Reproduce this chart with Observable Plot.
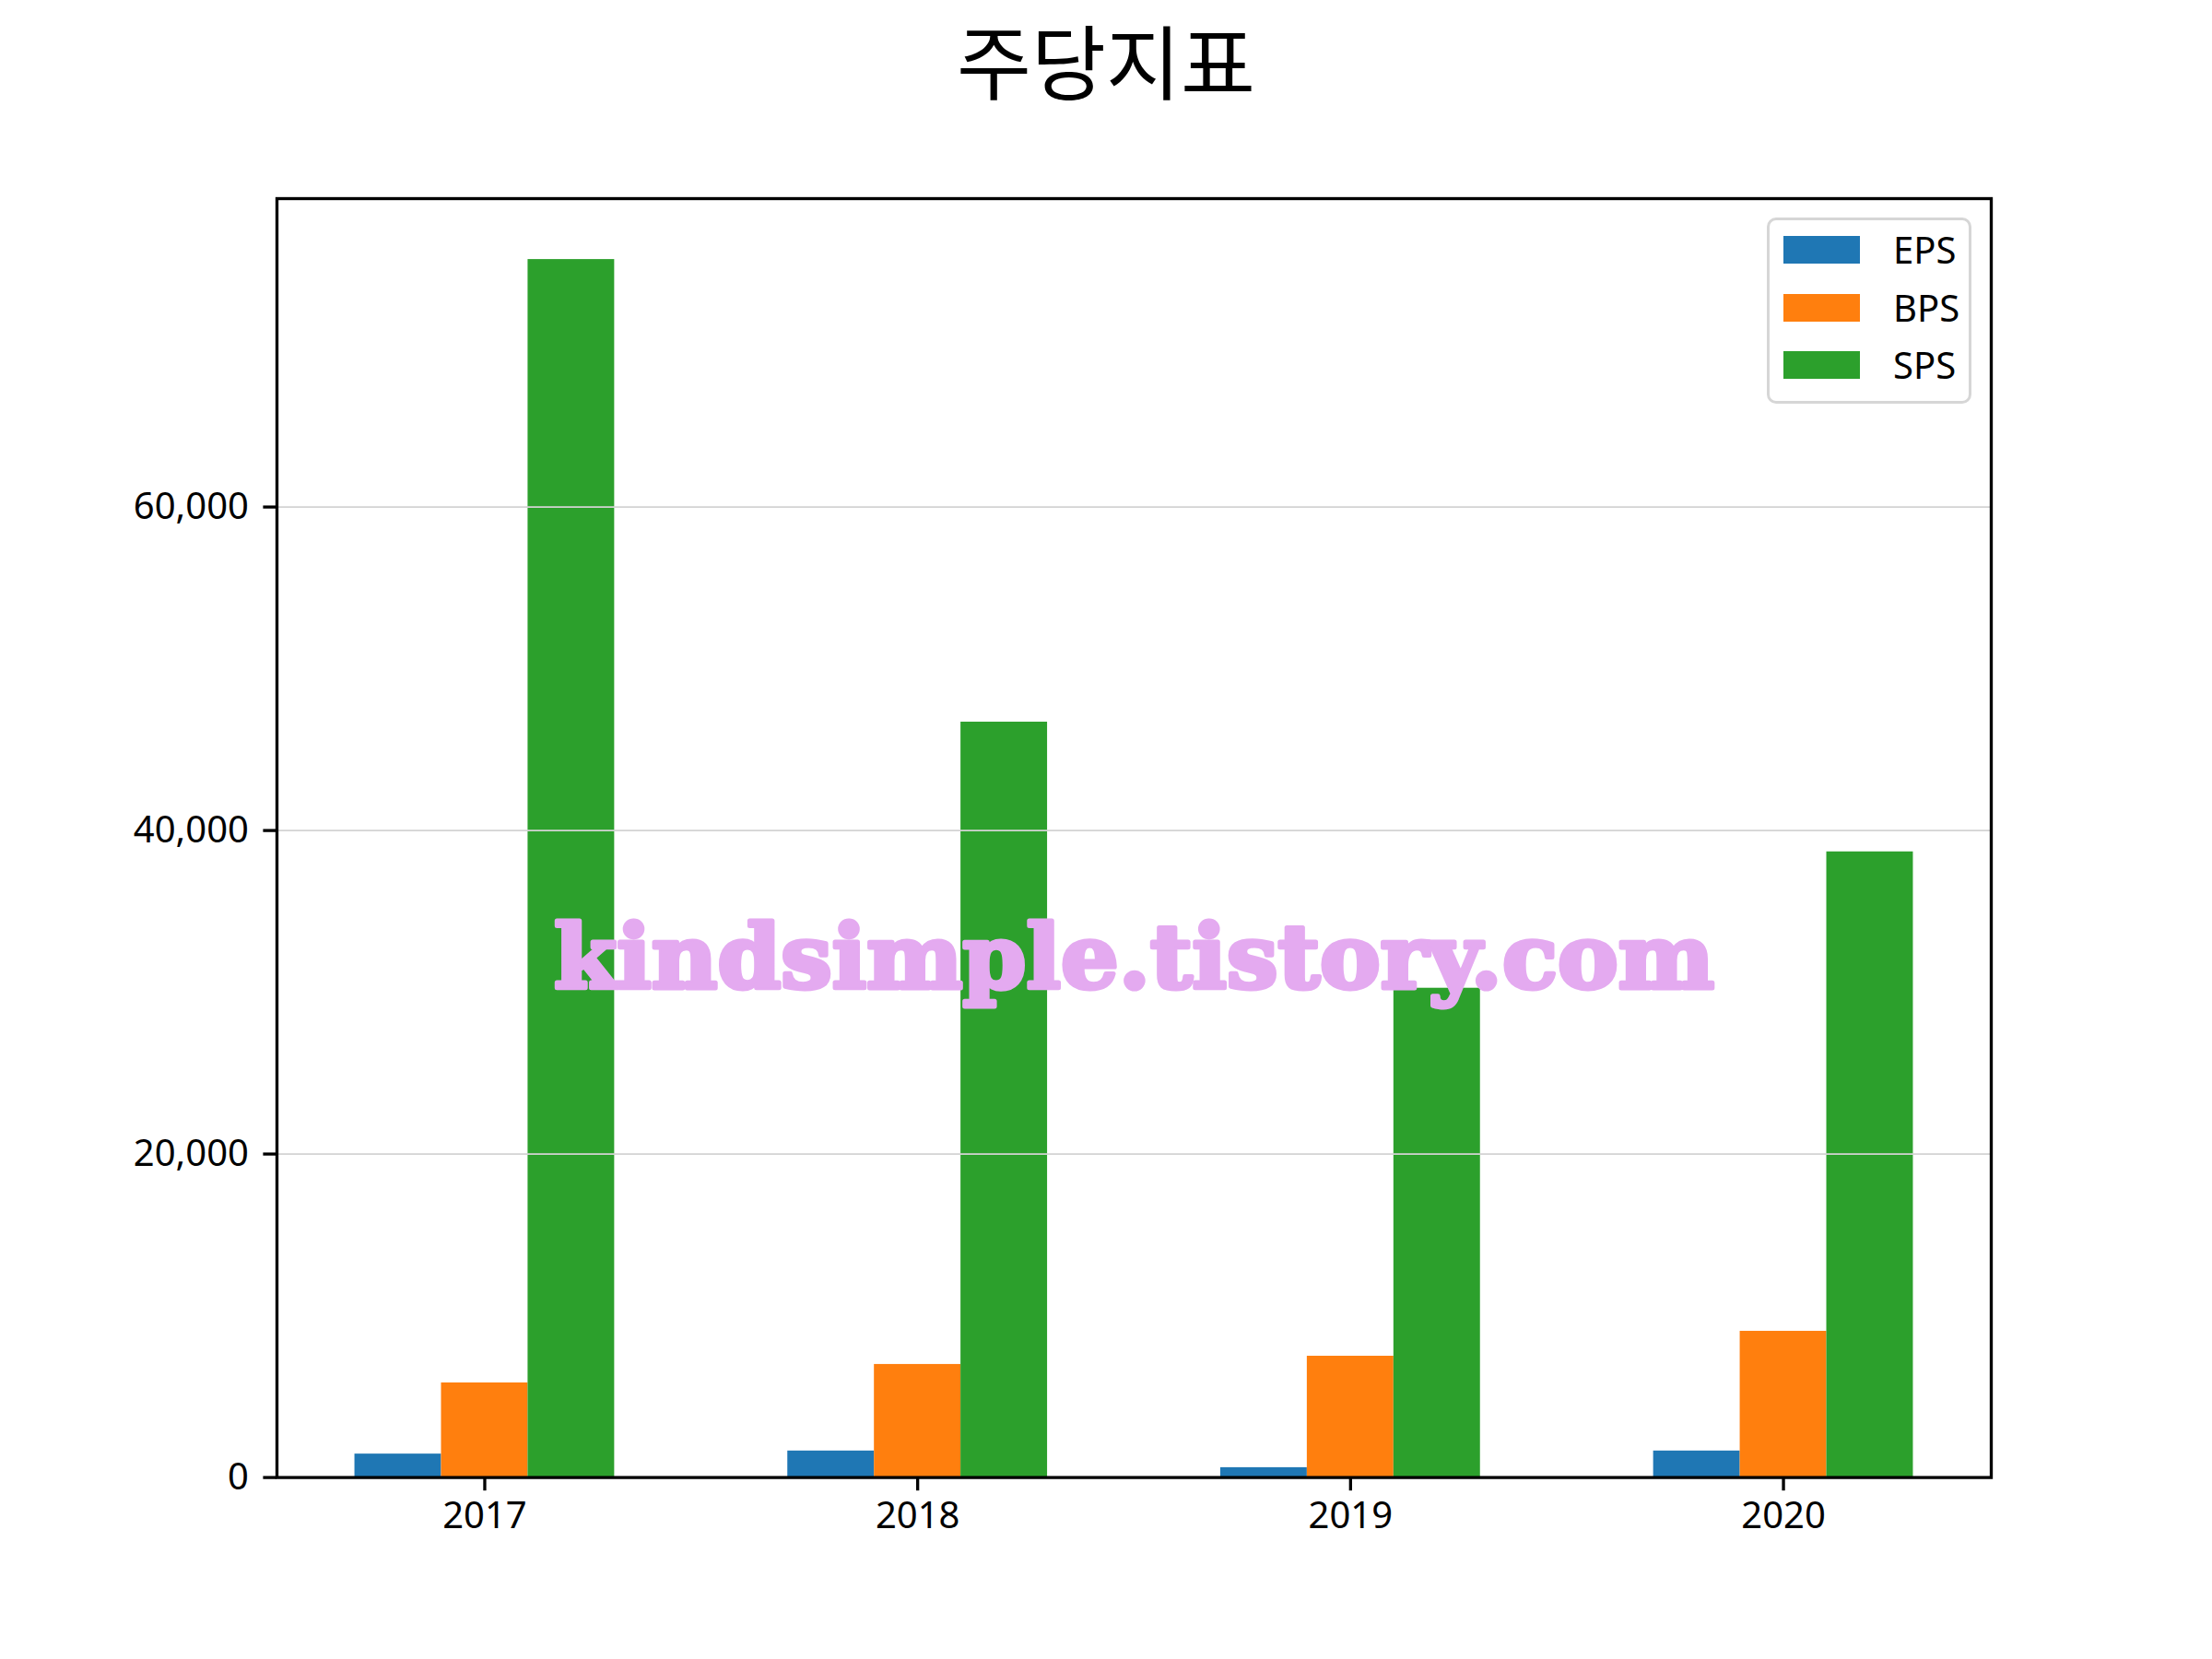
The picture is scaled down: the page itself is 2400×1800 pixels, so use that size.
<!DOCTYPE html>
<html>
<head>
<meta charset="utf-8">
<script src="https://cdn.jsdelivr.net/npm/d3@7"></script>
<script src="https://cdn.jsdelivr.net/npm/@observablehq/plot@0.6"></script>
<style>
  html, body { margin: 0; padding: 0; background: #fff; }
  #fig { position: relative; width: 2400px; height: 1800px; background: #fff; }
  #title { position: relative; height: 130px; }
  #title span { position: absolute; left: 0; right: 0; top: 63px; transform: translateY(-50%);
    text-align: center; font-family: "Noto Sans CJK KR", sans-serif; font-size: 88px; color: #000; line-height: 1; }
  #legend { position: absolute; left: 1917px; top: 236px; width: 216px; height: 196px;
    border: 3px solid #d6d6d6; border-radius: 10px; background: rgba(255,255,255,0.8);
    font-family: "Noto Sans", sans-serif; font-size: 40px; color: #000; }
  .row { position: absolute; left: 0; height: 40px; width: 100%; }
  .sw { position: absolute; left: 15px; width: 83px; height: 30px; top: 5px; }
  .lb { position: absolute; left: 134px; top: 20px; transform: translateY(-50%); line-height: 1; }
</style>
</head>
<body>
<div id="fig">
  <div id="title"><span>주당지표</span></div>
  <div id="chart"></div>
  <div id="legend"></div>
</div>
<script>
const years = ["2017", "2018", "2019", "2020"];
const seriesNames = ["EPS", "BPS", "SPS"];
const colors = ["#1f77b4", "#ff7f0e", "#2ca02c"];
const eps = [1450, 1640, 610, 1640];
const bps = [5850, 6990, 7500, 9040];
const sps = [75300, 46700, 30250, 38680];
const yTicks = [0, 20000, 40000, 60000];
const watermark = "kindsimple.tistory.com";

const valuesBySeries = [eps, bps, sps];
const barWidth = 0.2;
const rows = [];
years.forEach((yr, i) => {
  seriesNames.forEach((s, k) => {
    rows.push({year: yr, i, k, series: s, value: valuesBySeries[k][i]});
  });
});

const plot = Plot.plot({
  width: 2400,
  height: 1670,
  marginTop: 85,
  marginBottom: 197.4,
  marginLeft: 300,
  marginRight: 240,
  style: {fontFamily: "'Noto Sans', sans-serif", fontSize: "40px", color: "#000", background: "#fff"},
  x: {domain: [-0.48, 3.48], label: null},
  y: {domain: [0, 79066], label: null},
  color: {domain: seriesNames, range: colors},
  marks: [
    Plot.rectY(rows, {
      x1: d => d.i + (d.k - 1) * barWidth - barWidth / 2,
      x2: d => d.i + (d.k - 1) * barWidth + barWidth / 2,
      y1: 0, y2: "value", fill: "series"
    }),
    Plot.gridY(yTicks.slice(1), {stroke: "#d3d3d3", strokeOpacity: 1, strokeWidth: 1.8}),
    Plot.text([watermark], {frameAnchor: "middle", lineAnchor: "bottom", dy: 163,
      fill: "#e4aaf0", stroke: "#e4aaf0", strokeWidth: 5, strokeLinejoin: "round",
      fontSize: 96, fontWeight: "bold", fontFamily: "'DejaVu Serif', serif"}),
    Plot.axisY({ticks: yTicks, tickFormat: d3.format(","), tickSize: 14.6, tickPadding: 16,
      strokeWidth: 3.33, fontSize: 40, label: null}),
    Plot.axisX({ticks: [0, 1, 2, 3], tickFormat: i => years[i], tickSize: 14.6, tickPadding: 12,
      strokeWidth: 3.33, fontSize: 40, label: null}),
    Plot.frame({stroke: "#000", strokeWidth: 3.33})
  ]
});
document.getElementById("chart").appendChild(plot);

// stretch watermark text to the reference width
plot.querySelectorAll("text").forEach(t => {
  if (t.textContent === watermark) {
    t.setAttribute("textLength", 1259);
    t.setAttribute("lengthAdjust", "spacingAndGlyphs");
  }
});

const legend = document.getElementById("legend");
seriesNames.forEach((s, k) => {
  const row = document.createElement("div");
  row.className = "row";
  row.style.top = (12 + k * 62.5) + "px";
  row.innerHTML = `<div class="sw" style="background:${colors[k]}"></div><div class="lb">${s}</div>`;
  legend.appendChild(row);
});
</script>
</body>
</html>
